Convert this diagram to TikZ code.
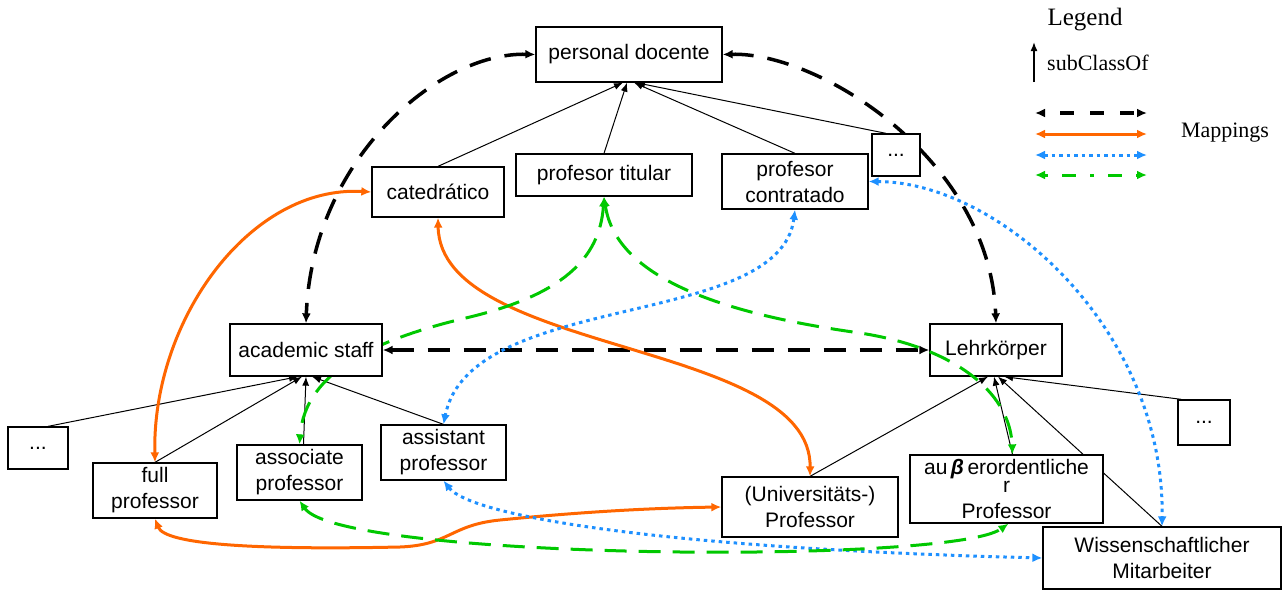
\documentclass[tikz,border=0pt]{standalone}
\usepackage{fontspec}
\setmainfont{Liberation Serif}
\newfontfamily\boxfont{Liberation Sans}
\usetikzlibrary{arrows.meta}
\pgfdeclarelayer{back}
\pgfsetlayers{back,main}
\definecolor{maporange}{RGB}{255,102,0}
\definecolor{mapblue}{RGB}{30,144,255}
\definecolor{mapgreen}{RGB}{0,200,0}
\begin{document}
\begin{tikzpicture}[x=1pt,y=-1pt,
  box/.style={draw, line width=1.3pt, fill=white, inner sep=0pt, align=center,
    font=\boxfont\fontsize{21}{26}\selectfont},
  legend/.style={inner sep=0pt, font=\fontsize{22}{26}\selectfont},
  isa/.style={line width=1pt, -{Latex[length=9pt,width=7pt]}},
  mtips/.style={{Latex[length=10pt,width=9pt]}-{Latex[length=10pt,width=9pt]}},
  mapblack/.style={mtips, line width=3.5pt, dash pattern=on 22pt off 14pt},
  maporng/.style={mtips, line width=3pt, maporange},
  mapblu/.style={mtips, line width=3pt, mapblue, dash pattern=on 3.5pt off 4pt},
  mapgrn/.style={mtips, line width=3pt, mapgreen, dash pattern=on 22pt off 12pt},
  mapgrnleg/.style={mtips, line width=3pt, mapgreen, dash pattern=on 4pt off 14pt on 14pt off 14pt}
]
\useasboundingbox (0,0) rectangle (1283,590);

% ---- classes ----
\node[box, minimum width=186pt, minimum height=55pt] (pd) at (629,54.5) {personal docente};
\node[box, minimum width=176pt, minimum height=42pt] (tit) at (604,175) {profesor titular};
\node[box, minimum width=132pt, minimum height=50pt] (cat) at (438,192) {catedrático};
\node[box, minimum width=146pt, minimum height=55pt] (con) at (795,181.5) {profesor\\contratado};
\node[box, minimum width=48pt, minimum height=42pt] (dt) at (896,155) {...};
\node[box, minimum width=152pt, minimum height=52pt] (acad) at (306,350) {academic staff};
\node[box, minimum width=132pt, minimum height=52pt] (lehr) at (996,350) {Lehrkörper};
\node[box, minimum width=60pt, minimum height=42pt] (dl) at (38,448) {...};
\node[box, minimum width=124pt, minimum height=55pt] (full) at (155,490.5) {full\\professor};
\node[box, minimum width=125pt, minimum height=55pt] (asso) at (299.5,472.5) {associate\\professor};
\node[box, minimum width=125pt, minimum height=55pt] (asst) at (443.5,452.5) {assistant\\professor};
\node[box, minimum width=176pt, minimum height=60pt] (univ) at (810,507) {(Universitäts-)\\Professor};
\node[box, minimum width=193pt, minimum height=68pt] (aus) at (1006.5,489)
  {au\,{\bfseries\itshape β}\,erordentliche\\[-8pt]r\\Professor};
\node[box, minimum width=238pt, minimum height=62pt] (wiss) at (1162,558) {Wissenschaftlicher\\Mitarbeiter};
\node[box, minimum width=52pt, minimum height=45pt] (dr) at (1204,422.5) {...};

\begin{pgfonlayer}{back}
  % subClassOf links
  \draw[isa] (cat.north) -- ([xshift=-6pt]pd.south);
  \draw[isa] (tit.north) -- ([xshift=-2pt]pd.south);
  \draw[isa] (con.north) -- ([xshift=5pt]pd.south);
  \draw[isa] ([xshift=-10pt]dt.north) -- ([xshift=7pt]pd.south);
  \draw[isa] ([xshift=10pt]dl.north) -- ([xshift=-8pt]acad.south);
  \draw[isa] (full.north) -- ([xshift=-4pt]acad.south);
  \draw[isa] ([xshift=4pt]asso.north) -- (acad.south);
  \draw[isa] (asst.north) -- ([xshift=6pt]acad.south);
  \draw[isa] (univ.north) -- ([xshift=-8pt]lehr.south);
  \draw[isa] ([xshift=6pt]aus.north) -- ([xshift=-2pt]lehr.south);
  \draw[isa] (wiss.north) -- ([xshift=2pt]lehr.south);
  \draw[isa] ([xshift=4pt]dr.north west) -- ([xshift=8pt]lehr.south);

  % mappings
  \draw[mapblack] (pd.west) .. controls (438,52) and (312,160) .. (acad.north);
  \draw[mapblack] (pd.east) .. controls (820,52) and (990,160) .. (lehr.north);
  \draw[mapblack] (acad.east) -- (lehr.west);

  \draw[maporng] (cat.west) .. controls (250,185) and (152,320) .. (full.north);
  \draw[maporng] (cat.south) .. controls (440,355) and (812,340) .. (univ.north);
  \draw[maporng] (full.south) .. controls (165,545) and (260,550) .. (400,547)
     .. controls (450,545) and (450,525) .. (500,520)
     .. controls (580,512) and (650,508) .. (univ.west);

  \draw[mapblu] (con.south) .. controls (780,330) and (470,290) .. (asst.north);
  \draw[mapblu] (con.east) .. controls (1000,182) and (1165,330) .. (wiss.north);
  \draw[mapblu] (asst.south) .. controls (470,515) and (650,548) .. (wiss.west);

  \draw[mapgrn] (tit.south) .. controls (600,260) and (560,295) .. (470,317)
     .. controls (380,338) and (305,370) .. (asso.north);
  \draw[mapgrn] (asso.south) .. controls (340,560) and (950,565) .. ([xshift=2pt]aus.south);
\end{pgfonlayer}

\draw[mapgrn] (tit.south) .. controls (615,270) and (700,310) .. (853,332)
   .. controls (950,345) and (1010,390) .. ([xshift=6pt]aus.north);

% ---- legend ----
\node[legend, font=\fontsize{25}{28}\selectfont] (legtitle) at (1085,20) {Legend};
\node[legend, anchor=west] (legsub) at (1047,63) {subClassOf};
\coordinate (subfoot) at (1034,82);
\coordinate (subhead) at (1034,42);
\draw[isa, line width=1.6pt] (subfoot) -- (subhead);
\coordinate (kA) at (1035,113); \coordinate (kB) at (1147,113);
\coordinate (oA) at (1035,134); \coordinate (oB) at (1147,134);
\coordinate (bA) at (1035,155); \coordinate (bB) at (1147,155);
\coordinate (gA) at (1035,175); \coordinate (gB) at (1147,175);
\draw[mapblack, dash pattern=on 14pt off 16pt, dash phase=-16pt] (kA) -- (kB);
\draw[maporng] (oA) -- (oB);
\draw[mapblu] (bA) -- (bB);
\draw[mapgrnleg] (gA) -- (gB);
\node[legend] (legmap) at (1225,133) {Mappings};
\end{tikzpicture}
\end{document}
